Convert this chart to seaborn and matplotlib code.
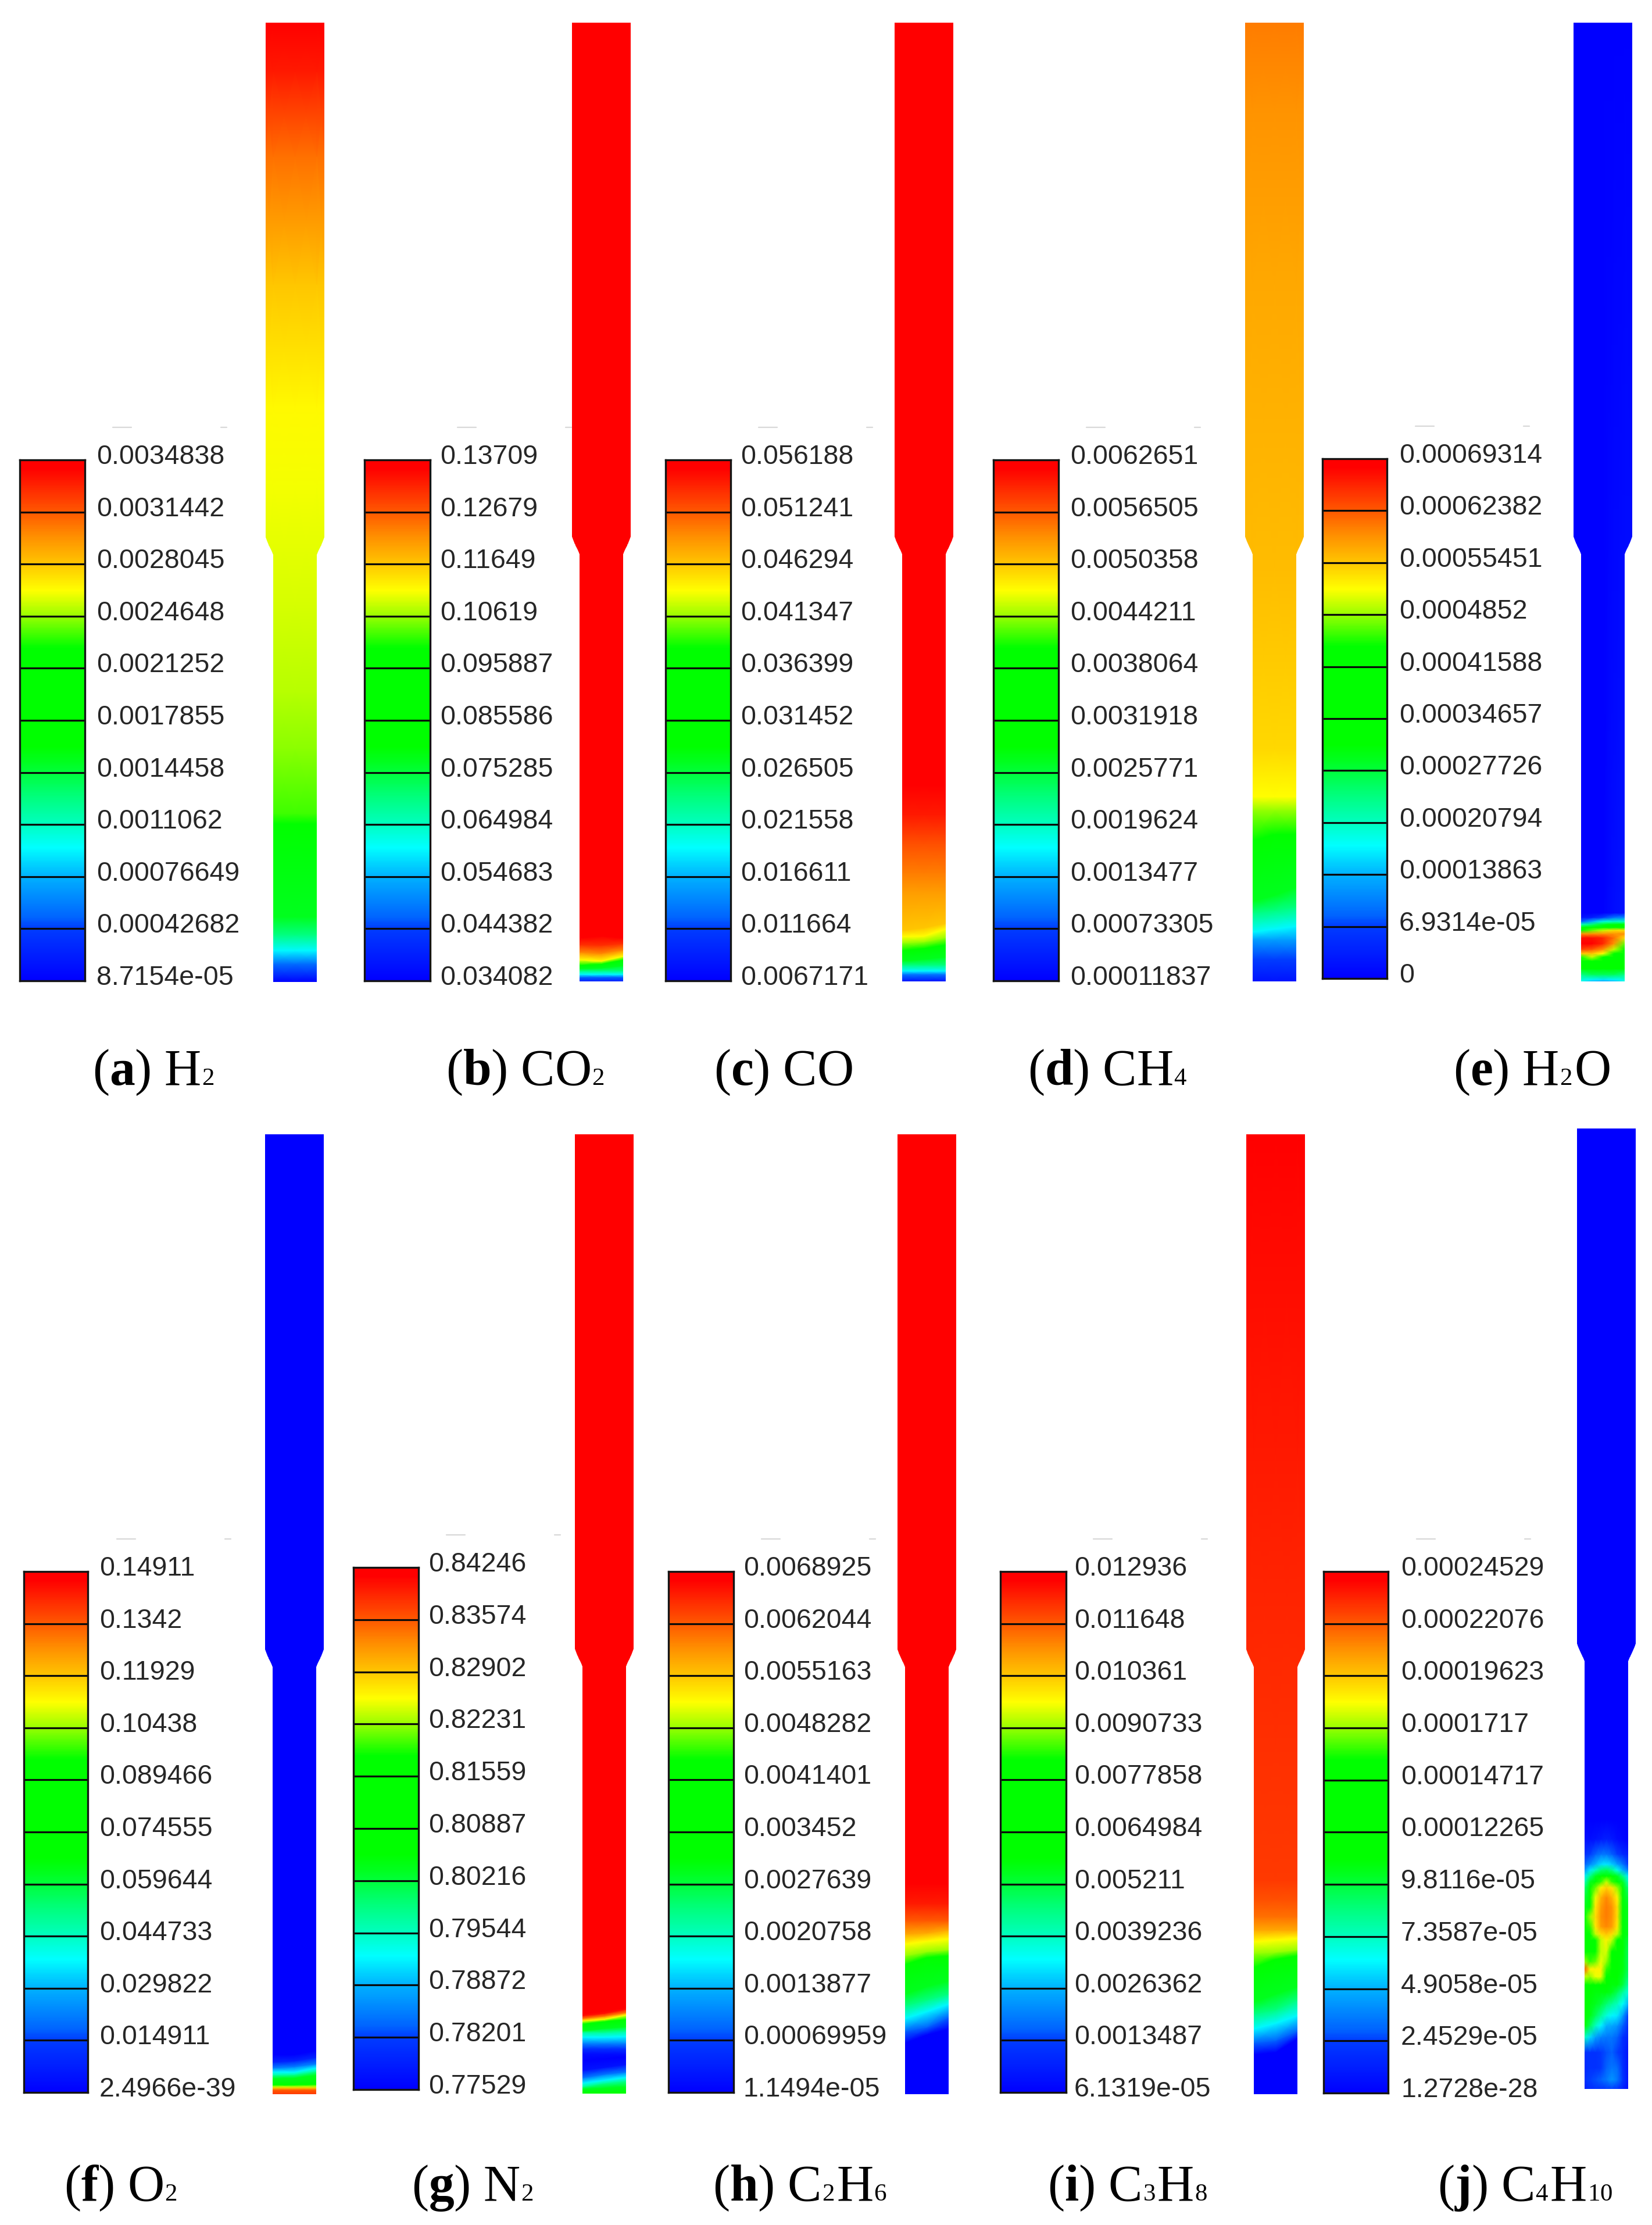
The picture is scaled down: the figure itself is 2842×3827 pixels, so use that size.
import numpy as np
import matplotlib
matplotlib.use("Agg")
import matplotlib.pyplot as plt
import matplotlib._mathtext as _mt
from matplotlib.colors import LinearSegmentedColormap
from matplotlib.path import Path
from matplotlib.lines import Line2D
from matplotlib.transforms import ScaledTranslation
import seaborn as sns

sns.set_theme(style="white")
plt.rcParams["font.family"] = ["Liberation Sans", "DejaVu Sans"]
plt.rcParams["mathtext.fontset"] = "custom"
plt.rcParams["mathtext.rm"] = "Liberation Serif"
plt.rcParams["mathtext.bf"] = "Liberation Serif:bold"
plt.rcParams["mathtext.default"] = "rm"
# formula digits sit on the text baseline in the reference
_mt.FontConstantsBase.subdrop = 0.0
_mt.FontConstantsBase.sub1 = 0.0
_mt.FontConstantsBase.sub2 = 0.0

# ---------------- colour-bar tick labels, bottom to top ----------------
TICKS_A = ["8.7154e-05", "0.00042682", "0.00076649", "0.0011062", "0.0014458", "0.0017855", "0.0021252", "0.0024648", "0.0028045", "0.0031442", "0.0034838"]
TICKS_B = ["0.034082", "0.044382", "0.054683", "0.064984", "0.075285", "0.085586", "0.095887", "0.10619", "0.11649", "0.12679", "0.13709"]
TICKS_C = ["0.0067171", "0.011664", "0.016611", "0.021558", "0.026505", "0.031452", "0.036399", "0.041347", "0.046294", "0.051241", "0.056188"]
TICKS_D = ["0.00011837", "0.00073305", "0.0013477", "0.0019624", "0.0025771", "0.0031918", "0.0038064", "0.0044211", "0.0050358", "0.0056505", "0.0062651"]
TICKS_E = ["0", "6.9314e-05", "0.00013863", "0.00020794", "0.00027726", "0.00034657", "0.00041588", "0.0004852", "0.00055451", "0.00062382", "0.00069314"]
TICKS_F = ["2.4966e-39", "0.014911", "0.029822", "0.044733", "0.059644", "0.074555", "0.089466", "0.10438", "0.11929", "0.1342", "0.14911"]
TICKS_G = ["0.77529", "0.78201", "0.78872", "0.79544", "0.80216", "0.80887", "0.81559", "0.82231", "0.82902", "0.83574", "0.84246"]
TICKS_H = ["1.1494e-05", "0.00069959", "0.0013877", "0.0020758", "0.0027639", "0.003452", "0.0041401", "0.0048282", "0.0055163", "0.0062044", "0.0068925"]
TICKS_I = ["6.1319e-05", "0.0013487", "0.0026362", "0.0039236", "0.005211", "0.0064984", "0.0077858", "0.0090733", "0.010361", "0.011648", "0.012936"]
TICKS_J = ["1.2728e-28", "2.4529e-05", "4.9058e-05", "7.3587e-05", "9.8116e-05", "0.00012265", "0.00014717", "0.0001717", "0.00019623", "0.00022076", "0.00024529"]

CAPTIONS = [
    r"($\mathbf{a}$) H$_{_2}$", r"($\mathbf{b}$) CO$_{_2}$", r"($\mathbf{c}$) CO", r"($\mathbf{d}$) CH$_{_4}$", r"($\mathbf{e}$) H$_{_2}$O",
    r"($\mathbf{f}$) O$_{_2}$", r"($\mathbf{g}$) N$_{_2}$", r"($\mathbf{h}$) C$_{_2}$H$_{_6}$", r"($\mathbf{i}$) C$_{_3}$H$_{_8}$", r"($\mathbf{j}$) C$_{_4}$H$_{_{10}}$",
]

# ---------------- field readings: colour-scale fraction and axial station
# (station 0 = column outlet at bottom, 1650 = column top) at left wall, centre, right wall
FRAC_A = [0, .13, .25, .35, .42, .64, .665, .695, .715, .73, .745, .755, .8, .88, .96, 1]
AXIAL_A = [0, 31, 54, 81, 112, 272, 290, 400, 500, 650, 850, 988, 1200, 1420, 1566, 1650]

FRAC_B = [.05, .12, .25, .35, .42, .64, .75, .86, .94, 1, 1]
AXIAL_B_L = [0, 7, 12, 18, 22, 28, 37, 50, 63, 75, 1650]
AXIAL_B_C = [0, 7, 12, 18, 23, 30, 35, 48, 62, 78, 1650]
AXIAL_B_R = [0, 7, 12, 18, 27, 37, 43, 54, 65, 75, 1650]

FRAC_C = [.03, .14, .25, .35, .42, .64, .7, .75, .8, .84, .87, .91, .96, 1, 1]
AXIAL_C_L = [0, 12, 18, 28, 35, 53, 66, 77, 88, 153, 187, 237, 287, 337, 1650]
AXIAL_C_C = [0, 12, 18, 28, 38, 57, 68, 78, 92, 153, 187, 237, 287, 337, 1650]
AXIAL_C_R = [0, 12, 18, 28, 42, 63, 75, 90, 100, 153, 187, 237, 287, 337, 1650]

FRAC_D = [.03, .1, .18, .25, .35, .42, .64, .7, .75, .785, .81, .83, .85, .87]
AXIAL_D_L = [0, 38, 72, 85, 118, 138, 242, 295, 318, 400, 712, 1200, 1500, 1650]
AXIAL_D_C = [0, 38, 72, 90, 122, 148, 253, 295, 318, 400, 712, 1200, 1500, 1650]
AXIAL_D_R = [0, 38, 72, 95, 128, 162, 253, 295, 318, 400, 712, 1200, 1500, 1650]

FRAC_F = [.93, .9, .82, .72, .64, .42, .32, .25, .15, .06, 0, 0]
AXIAL_F_L = [0, 7, 10, 13, 16, 27, 33, 38, 45, 55, 68, 1650]
AXIAL_F_C = [0, 7, 10, 13, 16, 28, 34, 38, 47, 57, 68, 1650]
AXIAL_F_R = [0, 7, 10, 13, 17, 33, 40, 45, 52, 63, 75, 1650]

FRAC_G = [.5, .42, .33, .25, .14, .03, 0, .02, .08, .16, .25, .33, .42, .64, .75, .87, .97, 1, 1]
AXIAL_G_L = [0, 8, 12, 18, 27, 40, 57, 68, 77, 87, 97, 105, 108, 120, 125, 129, 134, 137, 1650]
AXIAL_G_C = [0, 10, 18, 23, 33, 45, 60, 68, 77, 87, 97, 105, 112, 124, 128, 133, 138, 142, 1650]
AXIAL_G_R = [0, 12, 22, 28, 37, 50, 63, 68, 77, 87, 98, 107, 115, 128, 135, 139, 145, 148, 1650]

FRAC_H = [0, 0, .12, .25, .35, .42, .64, .7, .75, .83, .9, .96, 1, 1]
AXIAL_H_L = [0, 88, 108, 130, 152, 172, 223, 238, 258, 275, 298, 328, 362, 1650]
AXIAL_H_C = [0, 102, 115, 142, 162, 185, 235, 245, 263, 277, 298, 328, 362, 1650]
AXIAL_H_R = [0, 112, 132, 155, 172, 195, 238, 248, 267, 282, 298, 328, 362, 1650]

FRAC_I = [0, 0, .12, .25, .35, .42, .64, .7, .75, .83, .88, .91, .93, .94, .96, 1]
AXIAL_I_L = [0, 68, 88, 112, 138, 158, 218, 242, 262, 282, 305, 335, 368, 600, 1100, 1650]
AXIAL_I_C = [0, 72, 92, 122, 145, 172, 232, 244, 265, 282, 305, 335, 368, 600, 1100, 1650]
AXIAL_I_R = [0, 95, 108, 135, 162, 185, 238, 248, 268, 282, 305, 335, 368, 600, 1100, 1650]

# full 2-D readings: one row per axial station, one column per position across the column
AXIAL_E = [0, 3, 12, 22, 35, 42, 48, 55, 65, 75, 82, 88, 93, 98, 103, 110, 118, 1650]
FIELD_E = [
    [.27, .2, .17, .2, .27], [.28, .25, .24, .25, .28], [.35, .38, .38, .38, .35], [.45, .5, .5, .5, .45],
    [.55, .58, .6, .55, .5], [.65, .72, .62, .55, .55], [.8, .8, .75, .62, .55], [.92, .9, .85, .72, .6],
    [1, 1, .95, .85, .68], [.97, .97, .95, .88, .78], [.85, .85, .85, .85, .85], [.62, .68, .72, .78, .78],
    [.5, .5, .55, .58, .6], [.3, .36, .42, .45, .45], [.12, .2, .28, .3, .3], [.03, .05, .1, .14, .16],
    [0, 0, 0, .02, .03], [0, 0, 0, 0, 0],
]

AXIAL_J = [0, 16, 36, 63, 89, 109, 126, 146, 166, 179, 193, 206, 219, 236, 256, 266, 279, 296, 313, 329, 346, 356, 366, 376, 386, 403, 429, 463, 1650]
FIELD_J = [
    [.05, .07, .08, .08, .09, .1, .08, .05, .02],
    [.08, .1, .11, .12, .14, .17, .14, .09, .03],
    [.07, .08, .08, .09, .12, .14, .13, .08, .03],
    [.08, .08, .08, .09, .11, .12, .1, .07, .03],
    [.3, .23, .18, .15, .14, .14, .12, .08, .05],
    [.5, .38, .3, .25, .2, .19, .17, .12, .07],
    [.45, .43, .38, .33, .28, .25, .24, .18, .1],
    [.45, .44, .42, .4, .36, .33, .3, .26, .2],
    [.46, .45, .44, .44, .44, .42, .38, .33, .28],
    [.5, .5, .52, .5, .46, .44, .44, .4, .32],
    [.72, .7, .74, .74, .6, .46, .45, .42, .36],
    [.9, .76, .76, .76, .66, .5, .45, .44, .38],
    [.7, .66, .68, .74, .7, .54, .46, .44, .38],
    [.47, .52, .64, .72, .73, .62, .5, .45, .38],
    [.45, .5, .64, .72, .76, .72, .6, .45, .4],
    [.45, .56, .72, .78, .8, .78, .72, .5, .42],
    [.46, .66, .77, .84, .86, .84, .77, .58, .42],
    [.44, .7, .78, .85, .87, .85, .78, .62, .42],
    [.42, .56, .77, .84, .87, .85, .78, .58, .42],
    [.4, .48, .74, .82, .86, .82, .76, .5, .4],
    [.36, .46, .68, .76, .79, .77, .7, .46, .36],
    [.3, .42, .54, .66, .72, .66, .54, .42, .3],
    [.24, .34, .42, .48, .54, .48, .42, .34, .24],
    [.17, .24, .3, .36, .38, .34, .27, .2, .15],
    [.12, .16, .2, .23, .24, .22, .18, .14, .1],
    [.08, .1, .12, .14, .14, .12, .1, .07, .05],
    [.03, .02, .03, .04, .05, .04, .02, .01, 0],
    [0, 0, 0, 0, 0, 0, 0, 0, 0],
    [0, 0, 0, 0, 0, 0, 0, 0, 0],
]

# ---------------- contour colour scale ----------------
SCALE = LinearSegmentedColormap.from_list("contour", [
    (0.00, (0, 0, 1)), (0.10, (0, .24, 1)), (0.12, (0, .39, 1)), (0.20, (0, .70, 1)),
    (0.255, (0, 1, 1)), (0.30, (0, 1, .75)), (0.35, (0, 1, .50)), (0.42, (0, 1, .12)),
    (0.45, (0, 1, 0)), (0.64, (0, 1, 0)), (0.70, (.59, 1, 0)), (0.75, (1, 1, 0)),
    (0.80, (1, .78, 0)), (0.85, (1, .58, 0)), (0.90, (1, .35, 0)), (0.985, (1, 0, 0)), (1.00, (1, 0, 0)),
], N=1024)

W, H = 2842, 3827
fig = plt.figure(figsize=(W / 100, H / 100), dpi=100, facecolor="white")


def px_axes(x0, y0, x1, y1):
    return fig.add_axes([x0 / W, 1 - y1 / H, (x1 - x0) / W, (y1 - y0) / H])


WALL_X = [-.2, 0, .5, 1, 1.2]


def wall_mesh(frac, left, centre=None, right=None):
    centre = left if centre is None else centre
    right = left if right is None else right
    Y = np.column_stack([left, left, centre, right, right]).astype(float)
    X = np.tile(WALL_X, (len(frac), 1))
    C = np.tile(np.asarray(frac, float)[:, None], (1, 5))
    return X, Y, C


def table_mesh(axial, field):
    F = np.asarray(field, float)
    C = np.column_stack([F[:, 0], F, F[:, -1]])
    xs = np.r_[-.2, np.linspace(0, 1, F.shape[1]), 1.2]
    X = np.tile(xs, (F.shape[0], 1))
    Y = np.tile(np.asarray(axial, float)[:, None], (1, C.shape[1]))
    return X, Y, C


STEP = 13 / 75
SHOULDER_Y = [735, 742, 748, 757, 765, 775]
SHOULDER_DX = [0, 2.7 / 75, 6 / 75, 10 / 75, 12.7 / 75, STEP]
OUTLINE = Path(
    [(0, 0), (1, 0)]
    + [(1 + d, y) for d, y in zip(SHOULDER_DX, SHOULDER_Y)]
    + [(1 + STEP, 1650), (-STEP, 1650)]
    + [(-d, y) for d, y in zip(SHOULDER_DX[::-1], SHOULDER_Y[::-1])]
    + [(0, 0)]
)


def draw_column(mesh, x_narrow, y_top, y_bottom):
    ax = px_axes(x_narrow - 13, y_top, x_narrow + 75 + 13, y_bottom)
    ax.set_xlim(-STEP, 1 + STEP)
    ax.set_ylim(0, 1650)
    ax.set_axis_off()
    X, Y, C = mesh
    qm = ax.pcolormesh(X, Y, C, cmap=SCALE, vmin=0, vmax=1, shading="gouraud")
    qm.set_clip_path(OUTLINE, ax.transData)


def draw_scale(ticks, x0, y0, x1, y1, label_x):
    ax = px_axes(x0, y0, x1, y1)
    values = np.array([float(t) for t in ticks])
    vmin, vmax = values[0], values[-1]
    rows = 400
    ramp = np.linspace(vmax, vmin, rows)[:, None]
    sns.heatmap(ramp, ax=ax, cmap=SCALE, vmin=vmin, vmax=vmax, cbar=False,
                xticklabels=False, yticklabels=False, rasterized=True)
    pos = (vmax - values) / (vmax - vmin) * rows
    ax.hlines(pos[1:-1], 0, 1, colors="#0a0a0a", lw=2.3)
    for s in ax.spines.values():
        s.set_visible(True)
        s.set_color("#141414")
        s.set_linewidth(2.4)
    ax.set_yticks(pos, ticks)
    ax.yaxis.tick_right()
    ax.tick_params(axis="y", length=0, pad=(label_x - x1) * 72 / 100, labelsize=33.5, labelcolor="#262626", labelrotation=0)
    shift = ScaledTranslation(0, 5 / 100, fig.dpi_scale_trans)
    for t in ax.get_yticklabels():
        t.set_verticalalignment("center")
        t.set_transform(t.get_transform() + shift)
    for dx0, dx1 in ((160, 192), (346, 356)):
        fig.add_artist(Line2D([(x0 + dx0) / W, (x0 + dx1) / W], [1 - (y0 - 56) / H] * 2,
                              color="#d8d8d8", lw=1.6, transform=fig.transFigure))


# (ticks, colour bar box, label x, field mesh, narrow column left x, column top, column bottom, caption x, baseline)
PANELS = [
    (TICKS_A, (34, 791, 146, 1687), 166, wall_mesh(FRAC_A, AXIAL_A), 470, 39, 1689, 159, 1866),
    (TICKS_B, (627, 791, 740, 1687), 757, wall_mesh(FRAC_B, AXIAL_B_L, AXIAL_B_C, AXIAL_B_R), 997, 39, 1688, 767, 1866),
    (TICKS_C, (1145, 791, 1257, 1687), 1274, wall_mesh(FRAC_C, AXIAL_C_L, AXIAL_C_C, AXIAL_C_R), 1552, 39, 1688, 1228, 1866),
    (TICKS_D, (1709, 791, 1821, 1687), 1841, wall_mesh(FRAC_D, AXIAL_D_L, AXIAL_D_C, AXIAL_D_R), 2155, 39, 1688, 1768, 1866),
    (TICKS_E, (2275, 789, 2386, 1683), 2407, table_mesh(AXIAL_E, FIELD_E), 2720, 39, 1688, 2500, 1866),
    (TICKS_F, (41, 2703, 151, 3599), 171, wall_mesh(FRAC_F, AXIAL_F_L, AXIAL_F_C, AXIAL_F_R), 469, 1951, 3602, 110, 3785),
    (TICKS_G, (608, 2696, 720, 3594), 737, wall_mesh(FRAC_G, AXIAL_G_L, AXIAL_G_C, AXIAL_G_R), 1002, 1951, 3601, 708, 3785),
    (TICKS_H, (1150, 2703, 1262, 3599), 1279, wall_mesh(FRAC_H, AXIAL_H_L, AXIAL_H_C, AXIAL_H_R), 1557, 1951, 3602, 1226, 3785),
    (TICKS_I, (1721, 2703, 1834, 3599), 1848, wall_mesh(FRAC_I, AXIAL_I_L, AXIAL_I_C, AXIAL_I_R), 2157, 1951, 3602, 1802, 3785),
    (TICKS_J, (2277, 2703, 2388, 3600), 2410, table_mesh(AXIAL_J, FIELD_J), 2726, 1941, 3593, 2473, 3785),
]

for caption, (ticks, box, label_x, mesh, col_x, col_top, col_bot, cap_x, cap_y) in zip(CAPTIONS, PANELS):
    draw_scale(ticks, *box, label_x)
    draw_column(mesh, col_x, col_top, col_bot)
    fig.text(cap_x / W, 1 - cap_y / H, caption, fontsize=63, family="Liberation Serif",
             color="black", ha="left", va="baseline")

fig.savefig("out.png", dpi=100, facecolor="white")
